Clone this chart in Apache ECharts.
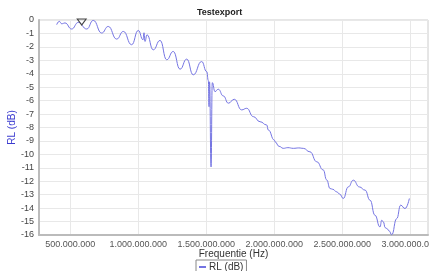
<!DOCTYPE html>
<html>
<head>
<meta charset="utf-8">
<script src="https://cdn.jsdelivr.net/npm/echarts@6/dist/echarts.min.js"></script>
<style>
  html, body { margin: 0; padding: 0; background: #fff; }
  #chart { width: 429px; height: 271px; }
</style>
</head>
<body>
<div id="chart"></div>
<script>
const freqMHz = [400, 419, 437, 461, 510, 559, 621, 669, 731, 779, 841, 890, 951, 1000,
  1035, 1042, 1049, 1064, 1110, 1160, 1209, 1257, 1307, 1356, 1404, 1466, 1503, 1515,
  1520, 1524, 1535, 1544, 1564, 1588, 1625, 1662, 1706, 1760, 1797, 1846, 1895, 1944,
  1956, 2000, 2005, 2035, 2066, 2100, 2140, 2180, 2213, 2262, 2312, 2360, 2385, 2410,
  2430, 2459, 2480, 2507, 2544, 2581, 2625, 2667, 2704, 2740, 2777, 2790, 2802, 2815,
  2827, 2845, 2863, 2900, 2929, 2961, 2993];
const rlDb = [-0.35, -0.10, -0.28, -0.22, -0.67, -0.18, -0.67, -0.03, -0.97, -0.48, -1.42, -0.85, -1.84, -0.78,
  -1.47, -0.95, -1.60, -1.10, -2.22, -1.52, -2.96, -2.34, -3.66, -2.91, -4.08, -3.09, -3.84, -4.51,
  -6.45, -4.60, -10.93, -4.66, -5.33, -5.15, -5.65, -6.19, -5.90, -6.69, -6.57, -7.19, -7.57, -7.81,
  -8.19, -8.93, -9.06, -9.40, -9.55, -9.50, -9.55, -9.52, -9.55, -9.81, -10.55, -11.16, -11.90, -12.54,
  -12.60, -12.79, -12.95, -13.28, -12.42, -11.92, -12.42, -12.66, -13.41, -14.53, -15.40, -14.90, -15.03, -15.45,
  -15.52, -15.70, -15.98, -14.78, -13.78, -14.03, -13.28];
const xTicks = [500e6, 1000e6, 1500e6, 2000e6, 2500e6, 3000e6];
const markerFreq = 584e6;
const markerRl = -0.15;

const fmtHz = v => String(Math.round(v)).replace(/\B(?=(\d{3})+(?!\d))/g, '.');

const chart = echarts.init(document.getElementById('chart'));
chart.setOption({
  animation: false,
  textStyle: { fontFamily: 'Liberation Sans, Arial, sans-serif' },
  title: {
    text: 'Testexport',
    left: 192, top: 3,
    textStyle: { fontSize: 9, fontWeight: 'bold', color: '#222' }
  },
  legend: {
    data: ['RL (dB)'],
    left: 196, top: 260,
    padding: [2, 3],
    borderColor: '#888', borderWidth: 1,
    itemWidth: 7, itemHeight: 2, itemGap: 2,
    icon: 'rect',
    textStyle: { fontSize: 10, color: '#333', padding: [0, 0, 0, -2] }
  },
  grid: {
    left: 39, right: 1, top: 20, bottom: 36,
    outerBoundsMode: 'none',
    show: true, borderColor: '#ccc', borderWidth: 1
  },
  xAxis: {
    type: 'value',
    min: 270e6, max: 3130e6,
    name: 'Frequentie (Hz)', nameLocation: 'middle', nameGap: 14,
    nameMoveOverlap: false,
    nameTextStyle: { fontSize: 10, color: '#333' },
    axisLine: { show: true, onZero: false, lineStyle: { color: '#bbb', width: 2 } },
    axisTick: { show: false, customValues: xTicks },
    axisLabel: { customValues: xTicks, formatter: fmtHz, fontSize: 9, color: '#555', margin: 5 },
    splitLine: { show: true, lineStyle: { color: '#e8e8e8' } }
  },
  yAxis: {
    type: 'value',
    min: -16, max: 0, interval: 1,
    name: 'RL (dB)', nameLocation: 'middle', nameGap: 22, nameRotate: 90,
    nameMoveOverlap: false,
    nameTextStyle: { fontSize: 10, color: '#3c3cd0' },
    axisLine: { show: true, onZero: false, lineStyle: { color: '#bbb', width: 2 } },
    axisTick: { show: false },
    axisLabel: { fontSize: 9, color: '#444', margin: 5 },
    splitLine: { show: true, lineStyle: { color: '#e8e8e8' } }
  },
  series: [{
    name: 'RL (dB)',
    type: 'line',
    data: freqMHz.map((f, i) => [f * 1e6, rlDb[i]]),
    showSymbol: false,
    smooth: 0.5,
    smoothMonotone: 'x',
    lineStyle: { color: '#7474e2', width: 1 },
    itemStyle: { color: '#7474e2' },
    markPoint: {
      symbol: 'triangle', symbolRotate: 180, symbolSize: [9, 6],
      label: { show: false },
      itemStyle: { color: 'rgba(0,0,0,0)', borderColor: '#444', borderWidth: 1 },
      data: [{ coord: [markerFreq, markerRl] }]
    }
  }]
});
</script>
</body>
</html>
